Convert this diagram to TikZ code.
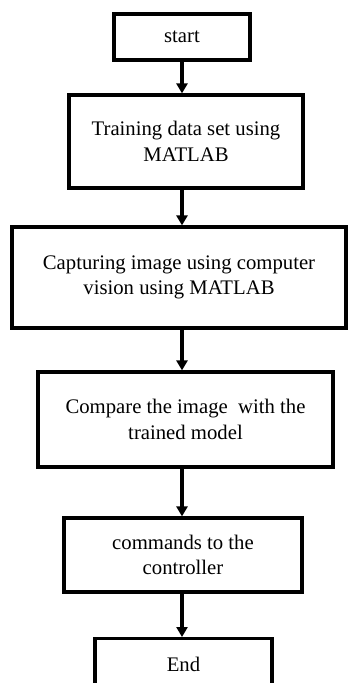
\documentclass[tikz,border=0pt]{standalone}
\usepackage{fontspec}
\setmainfont{Liberation Serif}
\usetikzlibrary{arrows.meta}
\tikzset{
  stepbox/.style={draw=black, line width=3.2bp, fill=white, inner sep=0pt, align=center,
    font=\fontsize{20.8}{25.5}\selectfont},
  flowarrow/.style={line width=3.2bp, -{Triangle[width=11bp,length=10bp]}}
}
\begin{document}
\begin{tikzpicture}[x=1bp,y=-1bp]
\useasboundingbox (0,0) rectangle (348,683);
\clip (0,0) rectangle (348,683);
\fill[white] (0,0) rectangle (348,683);
\node[stepbox, minimum width=136bp, minimum height=46bp] (b1) at (182,37) {start};
\node[stepbox, minimum width=234bp, minimum height=93bp] (b2) at (186,141.5) {Training data set using\\MATLAB};
\node[stepbox, minimum width=334bp, minimum height=101bp] (b3) at (179,277.5) {Capturing image using computer\\vision using MATLAB};
\node[stepbox, minimum width=295bp, minimum height=95bp] (b4) at (185.5,419.5) {Compare the image\ \ with the\\trained model};
\node[stepbox, minimum width=238bp, minimum height=74bp] (b5) at (183,555) {commands to the\\controller};
\node[stepbox, minimum width=177bp, minimum height=52bp, anchor=north] (b6) at (183.5,637) {End};
\draw[flowarrow] (b1.south) -- (b1.south |- b2.north);
\draw[flowarrow] (b1.south |- b2.south) -- (b1.south |- b3.north);
\draw[flowarrow] (b1.south |- b3.south) -- (b1.south |- b4.north);
\draw[flowarrow] (b1.south |- b4.south) -- (b1.south |- b5.north);
\draw[flowarrow] (b1.south |- b5.south) -- (b1.south |- b6.north);
\end{tikzpicture}
\end{document}
